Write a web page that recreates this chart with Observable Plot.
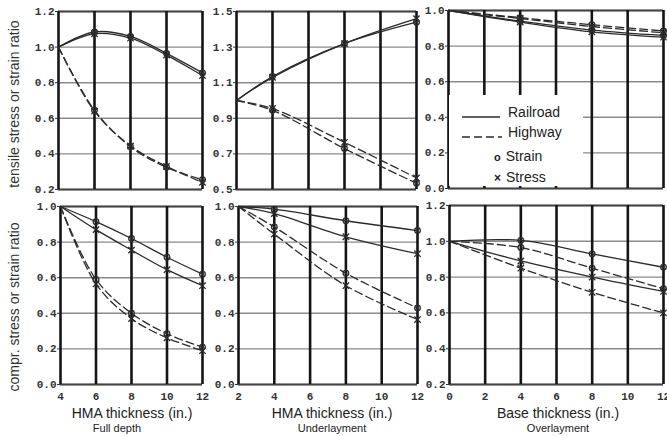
<!DOCTYPE html>
<html>
<head>
<meta charset="utf-8">
<script src="https://cdn.jsdelivr.net/npm/d3@7"></script>
<script src="https://cdn.jsdelivr.net/npm/@observablehq/plot@0.6"></script>
<style>
  html, body { margin: 0; padding: 0; background: #fff; }
  #root { position: relative; width: 667px; height: 436px; overflow: hidden; background: #fff; font-family: "Liberation Sans", Arial, sans-serif; color: #222; }
  #root svg.plotsvg { position: absolute; max-width: none; background: transparent; }
  .ytitle { position: absolute; white-space: nowrap; font-size: 14px; color: #333; transform: translate(-50%, -50%) rotate(-90deg); }
  .xtitle { position: absolute; white-space: nowrap; font-size: 14px; color: #222; transform: translate(-50%, -50%); }
  .sub { position: absolute; white-space: nowrap; font-size: 11px; color: #222; transform: translate(-50%, -50%); }
  #legend { position: absolute; left: 449px; top: 95px; width: 134px; height: 91px; background: #fff; }
  #legend .t { position: absolute; font-size: 14px; color: #222; transform: translateY(-50%); white-space: nowrap; }
</style>
</head>
<body>
<div id="root"></div>
<script>
// ---------- data ----------
// x positions of the computed points
const xFullDepth = [4, 6, 8, 10, 12];
const xUnderlayment = [2, 4, 8, 12];
const xOverlayment = [0, 4, 8, 12];

// tick labels
const xTicksFullDepth = [4, 6, 8, 10, 12];
const xTicksUnderlayment = [2, 4, 6, 8, 10, 12];
const xTicksOverlayment = [0, 2, 4, 6, 8, 10, 12];
const yTicksTenFull = [0.2, 0.4, 0.6, 0.8, 1.0, 1.2];
const yTicksTenUnder = [0.5, 0.7, 0.9, 1.1, 1.3, 1.5];
const yTicksTenOver = [0.0, 0.2, 0.4, 0.6, 0.8, 1.0];
const yTicksComFull = [0.0, 0.2, 0.4, 0.6, 0.8, 1.0];
const yTicksComUnder = [0.0, 0.2, 0.4, 0.6, 0.8, 1.0];
const yTicksComOver = [0.2, 0.4, 0.6, 0.8, 1.0, 1.2];

// tensile ratios, full depth
const tenFullRailStrain = [1.0, 1.085, 1.06, 0.965, 0.855];
const tenFullRailStress = [1.0, 1.075, 1.05, 0.955, 0.84];
const tenFullHwyStrain = [1.0, 0.645, 0.44, 0.325, 0.255];
const tenFullHwyStress = [1.0, 0.64, 0.445, 0.33, 0.24];
// tensile ratios, underlayment
const tenUnderRailStrain = [1.0, 1.135, 1.32, 1.44];
const tenUnderRailStress = [1.0, 1.13, 1.32, 1.46];
const tenUnderHwyStrain = [1.0, 0.945, 0.73, 0.535];
const tenUnderHwyStress = [1.0, 0.955, 0.765, 0.565];
// tensile ratios, overlayment
const tenOverRailStrain = [1.0, 0.94, 0.89, 0.86];
const tenOverRailStress = [1.0, 0.935, 0.88, 0.85];
const tenOverHwyStrain = [1.0, 0.96, 0.92, 0.885];
const tenOverHwyStress = [1.0, 0.955, 0.91, 0.875];
// compressive ratios, full depth
const comFullRailStrain = [1.0, 0.915, 0.82, 0.715, 0.62];
const comFullRailStress = [1.0, 0.87, 0.755, 0.645, 0.555];
const comFullHwyStrain = [1.0, 0.59, 0.40, 0.285, 0.21];
const comFullHwyStress = [1.0, 0.565, 0.37, 0.262, 0.19];
// compressive ratios, underlayment
const comUnderRailStrain = [1.0, 0.985, 0.92, 0.865];
const comUnderRailStress = [1.0, 0.96, 0.83, 0.735];
const comUnderHwyStrain = [1.0, 0.885, 0.625, 0.43];
const comUnderHwyStress = [1.0, 0.845, 0.555, 0.365];
// compressive ratios, overlayment
const comOverRailStrain = [1.0, 1.005, 0.93, 0.855];
const comOverRailStress = [1.0, 0.89, 0.80, 0.72];
const comOverHwyStrain = [1.0, 0.965, 0.85, 0.735];
const comOverHwyStress = [1.0, 0.85, 0.715, 0.60];

// ---------- drawing ----------
const root = document.getElementById("root");
const INK = "#2b2b2b";

function makePanel(p) {
  const rows = [];
  const series = [
    ["rail", "strain", p.railStrain], ["rail", "stress", p.railStress],
    ["hwy", "strain", p.hwyStrain], ["hwy", "stress", p.hwyStress]
  ];
  for (const [road, kind, vals] of series) {
    vals.forEach((v, i) => rows.push({x: p.xs[i], y: v, road, kind, key: road + kind, first: i === 0}));
  }
  const ml = 34, mr = 6, mt = 6, mb = p.bottom ? 24 : 4;
  const fw = p.fx1 - p.fx0, fh = p.fy1 - p.fy0;
  const xd = [p.xTicks[0], p.xTicks[p.xTicks.length - 1]];
  const yd = [p.yTicks[0], p.yTicks[p.yTicks.length - 1]];
  const marks = [
    Plot.gridY(p.yTicks, {stroke: "#8a8a8a", strokeOpacity: 1, strokeWidth: 1.4}),
    Plot.ruleY(yd, {stroke: "#444", strokeWidth: 2}),
    Plot.gridX(p.xTicks, {stroke: "#151515", strokeOpacity: 1, strokeWidth: 2.6}),
    Plot.axisY(p.yTicks, {label: null, tickSize: 3, tickPadding: 1, tickFormat: d3.format(".1f"), stroke: "#333", fill: "#333"}),
    Plot.line(rows.filter(d => d.road === "rail"), {x: "x", y: "y", z: "key", curve: "catmull-rom", stroke: INK, strokeWidth: 1.3}),
    Plot.line(rows.filter(d => d.road === "hwy"), {x: "x", y: "y", z: "key", curve: "catmull-rom", stroke: INK, strokeWidth: 1.3, strokeDasharray: "8,4"}),
    Plot.dot(rows.filter(d => !d.first && d.kind === "strain"), {x: "x", y: "y", r: 2.8, stroke: INK, strokeWidth: 1.3, fill: "none"}),
    Plot.dot(rows.filter(d => !d.first && d.kind === "stress"), {x: "x", y: "y", r: 3, symbol: "times", stroke: INK, strokeWidth: 1.3})
  ];
  if (p.bottom) {
    marks.push(Plot.axisX(p.xTicks, {label: null, tickSize: 0, tickPadding: 8, tickFormat: d3.format("d"), fill: "#333"}));
  }
  const svg = Plot.plot({
    width: fw + ml + mr,
    height: fh + mt + mb,
    marginLeft: ml, marginRight: mr, marginTop: mt, marginBottom: mb,
    x: {domain: xd, axis: null},
    y: {domain: yd, axis: null},
    style: {background: "transparent", overflow: "visible", fontFamily: "'Liberation Mono', 'DejaVu Sans Mono', monospace", fontWeight: "bold", fontSize: "11px"},
    marks
  });
  svg.classList.add("plotsvg");
  svg.style.left = (p.fx0 - ml) + "px";
  svg.style.top = (p.fy0 - mt) + "px";
  root.appendChild(svg);
}

makePanel({xs: xFullDepth, xTicks: xTicksFullDepth, yTicks: yTicksTenFull,
  railStrain: tenFullRailStrain, railStress: tenFullRailStress, hwyStrain: tenFullHwyStrain, hwyStress: tenFullHwyStress,
  fx0: 58, fx1: 202, fy0: 11, fy1: 189, bottom: false});
makePanel({xs: xUnderlayment, xTicks: xTicksUnderlayment, yTicks: yTicksTenUnder,
  railStrain: tenUnderRailStrain, railStress: tenUnderRailStress, hwyStrain: tenUnderHwyStrain, hwyStress: tenUnderHwyStress,
  fx0: 236, fx1: 416, fy0: 11, fy1: 189, bottom: false});
makePanel({xs: xOverlayment, xTicks: xTicksOverlayment, yTicks: yTicksTenOver,
  railStrain: tenOverRailStrain, railStress: tenOverRailStress, hwyStrain: tenOverHwyStrain, hwyStress: tenOverHwyStress,
  fx0: 448, fx1: 663, fy0: 10, fy1: 188, bottom: false});
makePanel({xs: xFullDepth, xTicks: xTicksFullDepth, yTicks: yTicksComFull,
  railStrain: comFullRailStrain, railStress: comFullRailStress, hwyStrain: comFullHwyStrain, hwyStress: comFullHwyStress,
  fx0: 60, fx1: 202, fy0: 206, fy1: 384, bottom: true});
makePanel({xs: xUnderlayment, xTicks: xTicksUnderlayment, yTicks: yTicksComUnder,
  railStrain: comUnderRailStrain, railStress: comUnderRailStress, hwyStrain: comUnderHwyStrain, hwyStress: comUnderHwyStress,
  fx0: 238, fx1: 417, fy0: 206, fy1: 384, bottom: true});
makePanel({xs: xOverlayment, xTicks: xTicksOverlayment, yTicks: yTicksComOver,
  railStrain: comOverRailStrain, railStress: comOverRailStress, hwyStrain: comOverHwyStrain, hwyStress: comOverHwyStress,
  fx0: 449, fx1: 663, fy0: 205, fy1: 384, bottom: true});

// ---------- texts ----------
function addText(cls, text, x, y) {
  const d = document.createElement("div");
  d.className = cls; d.textContent = text;
  d.style.left = x + "px"; d.style.top = y + "px";
  root.appendChild(d);
}
addText("ytitle", "tensile stress or strain ratio", 14, 104);
addText("ytitle", "compr. stress or strain ratio", 14, 307);
addText("xtitle", "HMA thickness (in.)", 132, 413);
addText("xtitle", "HMA thickness (in.)", 332, 413);
addText("xtitle", "Base thickness (in.)", 558, 413);
addText("sub", "Full depth", 117, 428);
addText("sub", "Underlayment", 332, 428);
addText("sub", "Overlayment", 558, 428);

// legend
const lg = document.createElement("div");
lg.id = "legend";
lg.innerHTML = `
  <svg width="134" height="91" style="position:absolute;left:0;top:0">
    <line x1="13" x2="51" y1="22" y2="22" stroke="${INK}" stroke-width="1.3"/>
    <line x1="13" x2="53" y1="42" y2="42" stroke="${INK}" stroke-width="1.3" stroke-dasharray="8,4"/>
  </svg>
  <div class="t" style="left:59px;top:17px">Railroad</div>
  <div class="t" style="left:59px;top:37px">Highway</div>
  <div class="t" style="left:45px;top:61px"><span style="font-size:11px;font-weight:bold;margin-right:5px">o</span>Strain</div>
  <div class="t" style="left:45px;top:82px"><span style="font-size:12px;font-weight:bold;margin-right:5px">×</span>Stress</div>
`;
root.appendChild(lg);
</script>
</body>
</html>
